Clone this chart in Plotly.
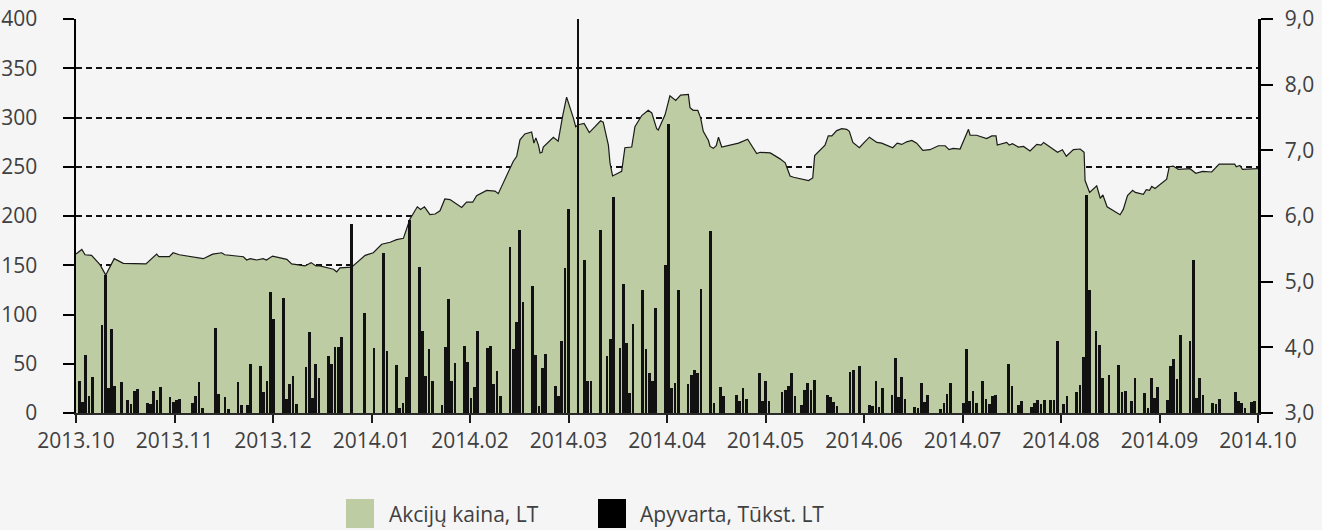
import plotly.graph_objects as go

# Days counted from 2013-10-01 (x axis spans one year, 0..365)
month_labels = ["2013.10", "2013.11", "2013.12", "2014.01", "2014.02", "2014.03", "2014.04",
                "2014.05", "2014.06", "2014.07", "2014.08", "2014.09", "2014.10"]

# Share price, LT (right axis) – day offset and value
price_t = [0, 1.8, 2.8, 4.8, 7.4, 9.2, 11.8, 14.6, 21.6, 24.9, 25.6, 28.8, 30.0, 31.9, 39.3, 42.2,
           45.0, 45.9, 51.7, 52.7, 53.8, 55.8, 57.8, 58.8, 60.7, 65.1, 66.6, 70.7, 72.6, 74.1, 75.3,
           79.5, 80.5, 81.5, 85.1, 89.3, 91.8, 94.4, 97, 99, 101.1, 102.1, 103.1, 105.4, 106.4, 107.6,
           109.3, 110.9, 112.4, 113.9, 115.5, 119.1, 120.6, 122.5, 123.7, 126.8, 129.4, 130.4, 133.5,
           135.0, 136.1, 137.1, 138.6, 140.7, 141.4, 142, 142.8, 143.3, 143.9, 144.3, 147.4, 148.9,
           150.3, 151.5, 153.6, 154.3, 155.1, 156.9, 158.5, 162.0, 162.8, 164.4, 164.9, 165.7, 168.5,
           169.5, 171.6, 172.6, 174.7, 176.7, 177.8, 179.3, 179.8, 181.9, 183.4, 185.2, 186.7, 189.1,
           189.6, 190.6, 192.0, 192.9, 193.7, 195.3, 195.8, 196.8, 197.7, 198.4, 199.4, 204.6, 207.4,
           210.2, 211.3, 214.4, 217.4, 219.0, 220.5, 221.6, 226.2, 227.5, 228.1, 229.8, 231.3, 232.3,
           233.4, 234.9, 236.5, 238.0, 238.8, 239.9, 241.9, 243.2, 245.0, 247.3, 248.8, 252.2, 253.6,
           255.0, 256.5, 258.1, 259.6, 261.5, 263.7, 266.3, 268.4, 269.6, 270.9, 273.0, 275.6, 276.1,
           278.1, 281.2, 282.8, 284.1, 284.5, 287.4, 288.2, 289.2, 291.0, 292.6, 294.6, 296.7, 298.0,
           298.8, 301.8, 303.1, 304.6, 305.8, 308.0, 310.1, 311.3, 311.6, 313.0, 315.2, 316.3, 317.1,
           318.4, 322.4, 323.4, 324.7, 326.3, 327.1, 329.6, 330.5, 331.5, 332.2, 333.2, 336.8, 337.6,
           338.8, 340.4, 344.0, 345.8, 347.9, 350.7, 353.0, 357.8, 358.3, 359.4, 360.2, 365]
price_v = [5.42, 5.49, 5.41, 5.40, 5.26, 5.10, 5.35, 5.28, 5.27, 5.42, 5.38, 5.38, 5.44, 5.41, 5.35, 5.42,
           5.44, 5.41, 5.38, 5.33, 5.35, 5.33, 5.35, 5.33, 5.39, 5.34, 5.27, 5.24, 5.29, 5.24, 5.24,
           5.19, 5.15, 5.21, 5.22, 5.40, 5.44, 5.57, 5.60, 5.64, 5.66, 5.79, 5.95, 6.14, 6.10, 6.14,
           6.02, 6.03, 6.08, 6.26, 6.25, 6.13, 6.21, 6.21, 6.31, 6.39, 6.38, 6.34, 6.66,
           6.83, 6.91, 7.16, 7.25, 7.28, 7.11, 7.19, 7.08, 6.96, 6.97, 7.05, 7.20, 7.14,
           7.53, 7.81, 7.49, 7.36, 7.39, 7.41, 7.27, 7.45, 7.43, 7.08, 6.81, 6.61, 6.68,
           7.04, 7.05, 7.36, 7.53, 7.61, 7.57, 7.33, 7.31, 7.54, 7.83, 7.76, 7.84, 7.85,
           7.65, 7.61, 7.61, 7.49, 7.29, 7.15, 7.06, 7.03, 7.07, 7.20, 7.05, 7.11, 7.17,
           6.95, 6.97, 6.96, 6.87, 6.81, 6.61, 6.59, 6.54, 6.58, 6.92, 7.00, 7.08, 7.22,
           7.22, 7.30, 7.33, 7.32, 7.29, 7.12, 7.04, 7.11, 7.20, 7.12, 7.11, 7.04, 7.11,
           7.09, 7.13, 7.15, 7.11, 7.00, 7.01, 7.07, 7.07, 7.01, 7.03, 7.02, 7.32, 7.23,
           7.23, 7.18, 7.22, 7.22, 7.08, 7.12, 7.08, 7.10, 7.05, 7.06, 6.99, 7.09, 7.08,
           7.12, 7.02, 6.97, 7.01, 6.91, 7.01, 7.02, 6.97, 6.54, 6.36, 6.46, 6.27, 6.32,
           6.14, 6.02, 6.10, 6.31, 6.39, 6.36, 6.33, 6.40, 6.39, 6.45, 6.42, 6.56, 6.75,
           6.76, 6.71, 6.72, 6.65, 6.68, 6.67, 6.79, 6.79, 6.75, 6.77, 6.71, 6.72]

# Turnover, thousand LT (left axis) – day offset and value
turnover_t = [1, 2, 3, 4, 5, 8, 9, 10, 11, 12, 14, 16, 17, 18, 19, 22, 23, 24, 25, 26, 29, 30, 31, 32,
              36, 37, 38, 39, 43, 44, 46, 47, 50, 51, 53, 54, 57, 58, 59, 60, 61, 64, 65, 66, 67, 68,
              71, 72, 73, 74, 75, 78, 79, 80, 81, 82, 85, 89, 92, 95, 96, 99, 100, 101, 102, 103, 106,
              107, 108, 109, 110, 113, 114, 115, 116, 117, 120, 121, 122, 123, 124, 127, 128, 129, 130,
              131, 134, 135, 136, 137, 138, 141, 142, 143, 144, 145, 148, 149, 150, 151, 152, 155, 157,
              158, 159, 162, 164, 165, 166, 168, 169, 170, 171, 172, 175, 176, 177, 178, 179, 182, 183,
              184, 185, 186, 189, 190, 191, 192, 193, 196, 197, 199, 200, 204, 205, 206, 207, 211, 212,
              213, 214, 218, 219, 220, 221, 222, 224, 225, 226, 227, 228, 232, 233, 234, 235, 239, 240,
              242, 245, 246, 247, 248, 249, 252, 253, 254, 255, 256, 259, 260, 261, 262, 263, 267, 268,
              269, 270, 274, 275, 276, 277, 278, 280, 281, 282, 283, 284, 288, 289, 291, 292, 295, 296,
              297, 298, 299, 301, 302, 303, 305, 306, 309, 310, 311, 312, 313, 315, 316, 317, 319, 322,
              323, 324, 326, 327, 330, 331, 332, 333, 334, 337, 338, 339, 340, 341, 344, 345, 346, 347,
              348, 351, 352, 353, 358, 359, 360, 361, 363, 364]
turnover_v = [33, 11, 59, 17, 37, 89, 140, 25, 85, 27, 31, 13, 9, 22, 24, 10, 9, 22, 13, 26, 16, 11, 13, 14,
              10, 17, 31, 5, 86, 19, 16, 4, 31, 8, 8, 50, 48, 21, 32, 123, 95, 117, 14, 29, 38, 9,
              47, 82, 15, 50, 36, 58, 50, 67, 67, 77, 192, 102, 66, 162, 63, 49, 5, 10, 37, 196, 148,
              83, 38, 65, 32, 8, 67, 116, 33, 51, 68, 52, 15, 26, 83, 66, 68, 29, 43,
              17, 169, 65, 92, 186, 113, 129, 59, 7, 46, 60, 27, 17, 73, 147, 207, 405, 155,
              32, 32, 186, 58, 75, 219, 66, 131, 71, 20, 90, 125, 65, 41, 33, 107, 150, 293,
              25, 30, 125, 29, 39, 44, 41, 126, 185, 10, 26, 17, 18, 12, 25, 14, 41, 12,
              32, 12, 21, 23, 27, 41, 17, 8, 23, 30, 23, 34, 18, 16, 11, 7, 42, 44,
              48, 8, 7, 33, 6, 25, 18, 56, 16, 37, 14, 6, 5, 30, 11, 18, 4, 10,
              19, 30, 10, 65, 12, 22, 10, 32, 14, 9, 17, 18, 50, 27, 8, 12, 6, 10,
              13, 9, 13, 13, 13, 73, 9, 17, 21, 28, 57, 221, 125, 83, 69, 36, 39, 49,
              21, 22, 12, 36, 20, 5, 36, 15, 26, 13, 48, 55, 35, 79, 73, 155, 15, 36,
              18, 10, 9, 14, 21, 12, 10, 5, 11, 12]

price_range = [3, 9]
turnover_range = [0, 400]
turnover_grid_step = 50

legend_names = ["Akcijų kaina, LT", "Apyvarta, Tūkst. LT"]
legend_colors = ["#bdcca2", "#000000"]

BG = "#f5f5f5"
TXT = "#404040"
FONT = "Open Sans"
FS = 21

fig = go.Figure()

# price area (primary y, drawn underneath)
fig.add_trace(go.Scatter(
    x=price_t, y=price_v, mode="lines", fill="tozeroy",
    fillcolor=legend_colors[0], line=dict(color="#1a1a1a", width=1.2),
    xaxis="x", yaxis="y", name=legend_names[0], showlegend=False, hoverinfo="skip"))

# turnover bars (overlay axis, drawn on top)
fig.add_trace(go.Bar(
    x=turnover_t, y=turnover_v, width=0.85, marker=dict(color="#111111", line=dict(width=0)),
    xaxis="x", yaxis="y2", name=legend_names[1], showlegend=False, hoverinfo="skip"))

n_months = len(month_labels) - 1
tickvals = [k * 365 / n_months for k in range(len(month_labels))]

fig.update_layout(
    width=1322, height=530,
    margin=dict(l=76, r=64, t=19, b=117, autoexpand=False),
    paper_bgcolor=BG, plot_bgcolor=BG,
    separators=", ",
    font=dict(family=FONT, size=FS, color=TXT),
    bargap=0,
    xaxis=dict(range=[0, 365], tickvals=tickvals, ticktext=month_labels, automargin=False,
               showgrid=False, zeroline=False, showline=True, linecolor="#2a2a2a", linewidth=2,
               ticks="outside", ticklen=8, tickwidth=2, tickcolor="#1a1a1a",
               tickfont=dict(size=FS, color=TXT, family=FONT)),
    yaxis=dict(range=price_range, dtick=1, tickformat=".1f", side="right", automargin=False,
               showgrid=False, zeroline=False, showline=True, linecolor="#000", linewidth=2.5,
               ticks="outside", ticklen=12, tickwidth=2, tickcolor="#000",
               ticklabelstandoff=8,
               tickfont=dict(size=FS, color=TXT, family=FONT)),
    yaxis2=dict(range=turnover_range, dtick=turnover_grid_step, overlaying="y", side="left",
                automargin=False,
                showgrid=True, gridcolor="#111", gridwidth=2, griddash="6px,4px",
                zeroline=False, showline=True, linecolor="#000", linewidth=2.5,
                ticks="outside", ticklen=11, tickwidth=2, tickcolor="#000",
                ticklabelstandoff=21,
                tickfont=dict(size=FS, color=TXT, family=FONT)),
)

# custom legend (large square swatches)
plot_w, plot_h = 1322 - 76 - 64, 530 - 19 - 117
def px(xp):
    return (xp - 76) / plot_w
def py(yp):
    return (413 - yp) / plot_h

sw_left = [346, 598]
txt_left = [387, 638]
for name, col, sl, tl in zip(legend_names, legend_colors, sw_left, txt_left):
    fig.add_shape(type="rect", xref="paper", yref="paper",
                  x0=px(sl), x1=px(sl + 28), y0=py(528), y1=py(499),
                  fillcolor=col, line=dict(width=0), layer="above")
    fig.add_annotation(x=px(tl), y=py(514), xref="paper", yref="paper", text=name,
                       showarrow=False, xanchor="left", yanchor="middle",
                       font=dict(size=FS, color=TXT, family=FONT))

fig.write_html("out.html",
               config={"displayModeBar": False, "staticPlot": True},
               post_script="document.body.style.margin='0';document.body.style.padding='0';"
                           "document.body.style.background='%s';" % BG)
